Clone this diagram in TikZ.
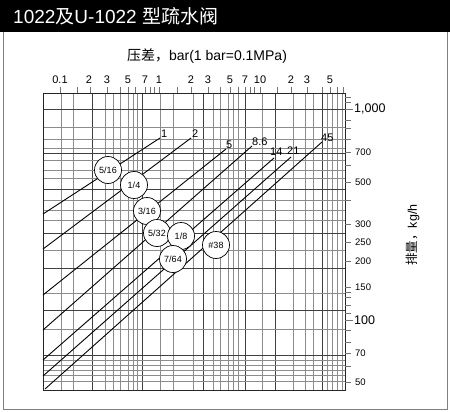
\documentclass[tikz,border=0pt]{standalone}
\usepackage{fontspec}
\setmainfont{Liberation Sans}
\newfontfamily\cjk{Noto Sans CJK SC}
\usetikzlibrary{calc}
\begin{document}
\begin{tikzpicture}[x=1pt,y=-1pt,
  gridl/.style={black!45, line width=0.55pt},
  gridd/.style={black!75, line width=0.8pt},
  tickl/.style={black!55, line width=0.6pt},
  curve/.style={black, line width=0.9pt},
  orifice/.style={circle, draw=black, fill=white, line width=0.7pt, minimum size=27pt, inner sep=0pt, font=\fontsize{9}{9}\selectfont},
  toplbl/.style={font=\fontsize{11}{11}\selectfont, inner sep=0pt},
  rlbl/.style={font=\fontsize{9.5}{9.5}\selectfont, anchor=west, inner sep=0pt},
  rbig/.style={font=\fontsize{12.5}{12.5}\selectfont, anchor=west, inner sep=0pt},
  curvelbl/.style={font=\fontsize{11}{11}\selectfont, inner sep=0pt}]
\useasboundingbox (0,0) rectangle (450,412);
% title bar and frame
\fill[black] (0,0) rectangle (450,32);
\draw[black!50, line width=1pt] (3,32) -- (3,409) -- (447,409) -- (447,32);
\node[anchor=base west, text=white, font=\fontsize{19}{19}\selectfont, inner sep=0pt] (title) at (13,24) {1022{\cjk 及}U-1022 {\cjk 型疏水阀}};
% grid
\foreach \x in {61,73,105,113,120,128,133,137,160,173,193,213,220,228,233,238,262,293,305,313,327,332,337,342}
  \draw[gridl] (\x,93) -- (\x,390);
\foreach \x in {92,142,203,245,275,322}
  \draw[gridd] (\x,93) -- (\x,390);
\foreach \y in {127,139,148,160,170,178,200,210,220,250,293,329,360,365,370,375,381}
  \draw[gridl] (43,\y) -- (345,\y);
\foreach \y in {109,153,189,233,268,310,355}
  \draw[gridd] (43,\y) -- (345,\y);
\draw[black!85, line width=0.9pt] (43,93) rectangle (345,390);
% top ticks and labels
\foreach \x in {60,77,90,107,120,128,135,145,150,154,159,177,191,208,220,230,238,245,250,254,260,277,291,307,322,330,337,343}
  \draw[tickl] (\x,87) -- (\x,93);
\foreach \x/\t [count=\i] in {60/0.1,89/2,107/3,128/5,145/7,159/1,191/2,208/3,230/5,245/7,260/10,291/2,307/3,330/5}
  \node[toplbl] (top\i) at (\x,80) {\t};
\node[font=\fontsize{14}{14}\selectfont, inner sep=0pt] (xtitle) at (207,56) {{\cjk 压差，}bar(1 bar=0.1MPa)};
% right ticks and labels
\foreach \y in {97,102,120,128,139,152,165,182,200,224,242,261,287,292,297,305,313,330,342,353,366,382}
  \draw[tickl] (345,\y) -- (351,\y);
\draw[tickl] (345,109) -- (353,109);
\draw[tickl] (345,320) -- (353,320);
\node[rbig] (r1000) at (354,109) {1,000};
\node[rbig] (r100) at (354,320) {100};
\foreach \y/\t in {152/700,182/500,224/300,242/250,261/200,287/150,353/70,382/50}
  \node[rlbl] (r\t) at (355,\y) {\t};
\node[rotate=90, font=\fontsize{12.5}{12.5}\selectfont, inner sep=0pt] (ytitle) at (413,235) {{\cjk 排量，}kg/h};
% characteristic lines
\coordinate (a1) at (43,214);  \coordinate (b1) at (160,138);
\coordinate (a2) at (43,249);  \coordinate (b2) at (191,138);
\coordinate (a5) at (43,295);  \coordinate (b5) at (226,149);
\coordinate (a86) at (43,330); \coordinate (b86) at (252,146);
\coordinate (a14) at (43,360); \coordinate (b14) at (274,158);
\coordinate (a21) at (43,376); \coordinate (b21) at (291,157);
\coordinate (a45) at (45,389); \coordinate (b45) at (322,142);
\foreach \n in {1,2,5,86,14,21,45}
  \draw[curve] (a\n) -- (b\n);
\node[curvelbl, anchor=south west] (l1) at ($(b1)+(1,0)$) {1};
\node[curvelbl, anchor=south west] (l2) at ($(b2)+(1,0)$) {2};
\node[curvelbl, anchor=south west] (l5) at ($(b5)+(0,0)$) {5};
\node[curvelbl, anchor=south west] (l86) at ($(b86)+(0,0)$) {8.6};
\node[curvelbl, anchor=south west] (l14) at ($(b14)+(-4,-2)$) {14};
\node[curvelbl, anchor=south west] (l21) at ($(b21)+(-4,-2)$) {21};
\node[curvelbl, anchor=south west] (l45) at ($(b45)+(-1,0)$) {45};
% orifice circles
\node[orifice] (o516) at (108,170) {5/16};
\node[orifice] (o14) at (134,185) {1/4};
\node[orifice] (o316) at (147,211) {3/16};
\node[orifice] (o532) at (157,233) {5/32};
\node[orifice] (o18) at (181,236) {1/8};
\node[orifice] (o764) at (173,259) {7/64};
\node[orifice] (o38) at (216,245) {\#38};
\end{tikzpicture}
\end{document}
